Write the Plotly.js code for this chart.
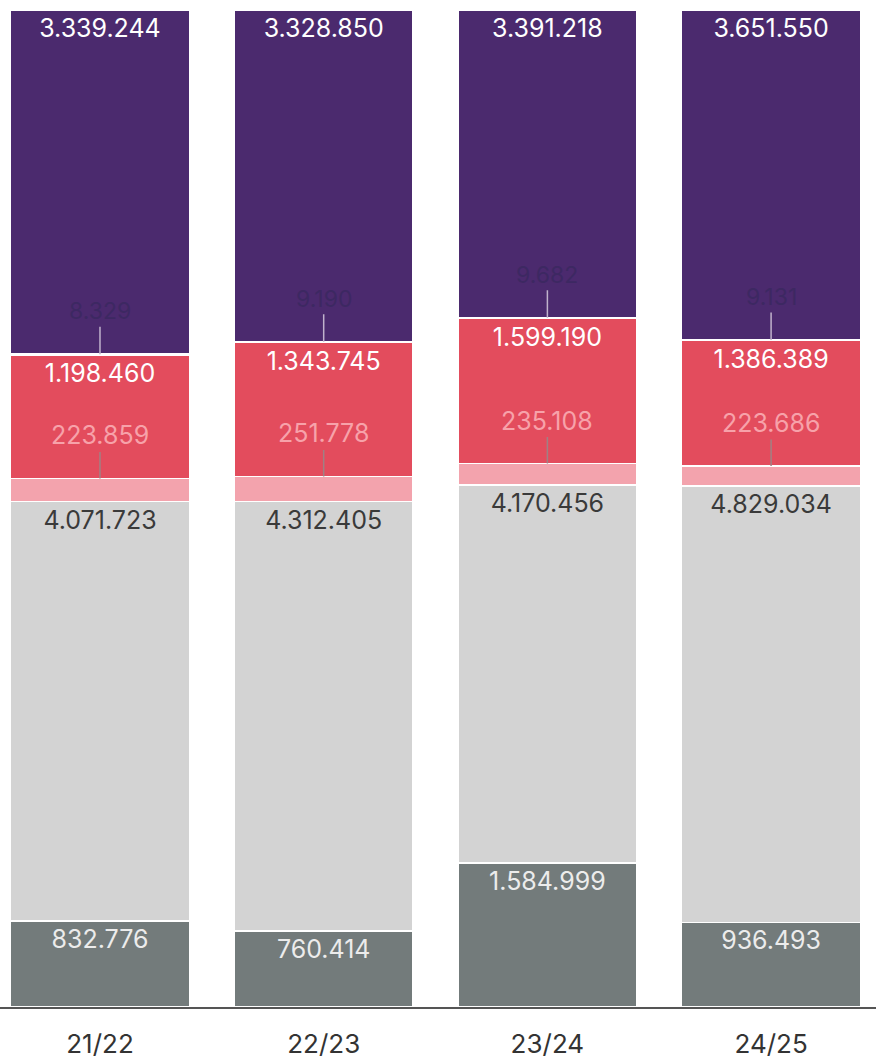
<!DOCTYPE html>
<html><head><meta charset="utf-8">
<script src="https://cdn.plot.ly/plotly-3.0.1.min.js"></script>
<style>html,body{margin:0;padding:0;background:#fff}#chart{width:876px;height:1060px}</style>
</head><body><div id="chart"></div>
<script>
const categories = ['21/22', '22/23', '23/24', '24/25'];
const darkGray  = [832776, 760414, 1584999, 936493];
const lightGray = [4071723, 4312405, 4170456, 4829034];
const pink      = [223859, 251778, 235108, 223686];
const red       = [1198460, 1343745, 1599190, 1386389];
const tiny      = [8329, 9190, 9682, 9131];
const purple    = [3339244, 3328850, 3391218, 3651550];

function fmt(v){ return String(v).replace(/\B(?=(\d{3})+(?!\d))/g, '.'); }
const FONT = 'Inter, "Open Sans", sans-serif';

function bar(name, vals, color, txtColor, showText){
  return {
    type:'bar', name:name, x:categories, y:vals,
    marker:{color:color, line:{color:'#ffffff', width:1.5}},
    text: showText ? vals.map(fmt) : undefined,
    textposition: showText ? 'inside' : 'none',
    insidetextanchor:'end', textangle:0, constraintext:'none',
    textfont:{family:FONT, size:25, color:txtColor},
    hoverinfo:'none'
  };
}

const traces = [
  bar('darkGray', darkGray, '#737b7b', '#ececec', true),
  bar('lightGray', lightGray, '#d3d3d3', '#3a3a3a', true),
  bar('pink', pink, '#f3a3ad', '#f8a0a8', false),
  bar('red', red, '#e34c5d', '#ffffff', true),
  bar('tiny', tiny, '#d9c8e0', '#3e2a5e', false),
  bar('purple', purple, '#4b2a6e', '#ffffff', true)
];

const annotations = [];
categories.forEach((c,i)=>{
  const total = darkGray[i]+lightGray[i]+pink[i]+red[i]+tiny[i]+purple[i];
  const pinkTop = (darkGray[i]+lightGray[i]+pink[i])/total*100;
  const tinyTop = (darkGray[i]+lightGray[i]+pink[i]+red[i]+tiny[i])/total*100;
  annotations.push({x:c, y:pinkTop, xref:'x', yref:'y', text:fmt(pink[i]),
    showarrow:true, arrowhead:0, arrowwidth:1.5, arrowcolor:'#a08084', ax:0, ay:-43,
    font:{family:FONT, size:25, color:'#f7a2aa'}});
  annotations.push({x:c, y:tinyTop, xref:'x', yref:'y', text:fmt(tiny[i]),
    showarrow:true, arrowhead:0, arrowwidth:1.5, arrowcolor:'#c0b2cc', ax:0, ay:-43,
    font:{family:FONT, size:23, color:'#3d2862'}});
});

const layout = {
  width:876, height:1060,
  margin:{l:0, r:0, t:10, b:53},
  paper_bgcolor:'#ffffff', plot_bgcolor:'#ffffff',
  barmode:'stack', barnorm:'percent', bargap:0.2,
  showlegend:false,
  xaxis:{type:'category', range:[-0.447, 3.469], showline:true, linecolor:'#555555', linewidth:1.5,
    ticks:'', showgrid:false, ticklabelstandoff:13,
    tickfont:{family:FONT, size:26, color:'#333333'}},
  yaxis:{range:[0,100], visible:false, showgrid:false, zeroline:false},
  annotations:annotations
};

Plotly.newPlot('chart', traces, layout, {displayModeBar:false, staticPlot:true});
</script></body></html>
